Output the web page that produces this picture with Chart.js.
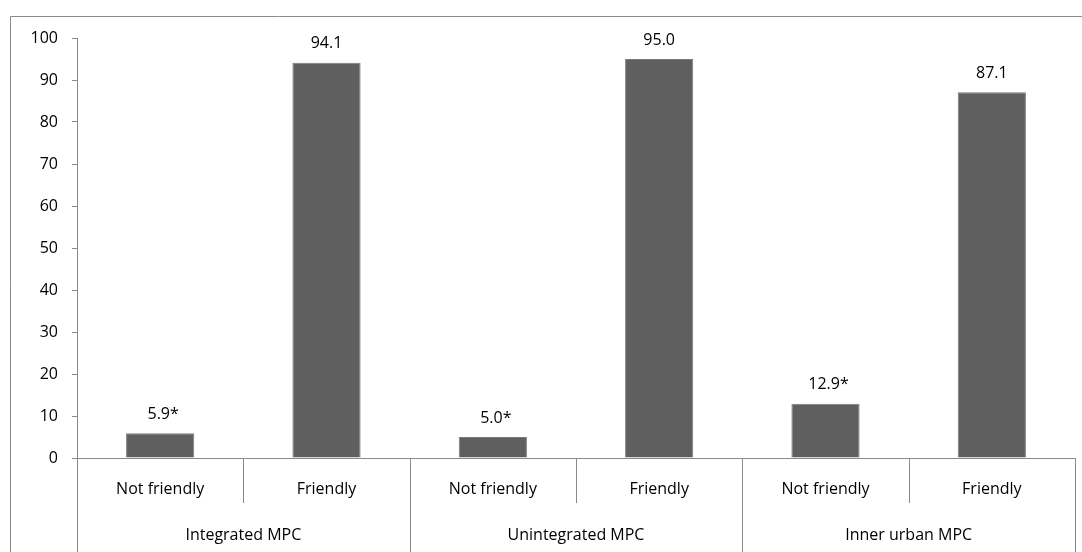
<!DOCTYPE html>
<html>
<head>
<meta charset="utf-8">
<script src="https://cdn.jsdelivr.net/npm/chart.js@4/dist/chart.umd.min.js"></script>
<style>
  html, body { margin: 0; padding: 0; background: #fff; }
  #wrap { width: 1082px; height: 552px; position: relative; }
</style>
</head>
<body>
<div id="wrap"><canvas id="chart"></canvas></div>
<script>
// data
const subLabels = ['Not friendly', 'Friendly', 'Not friendly', 'Friendly', 'Not friendly', 'Friendly'];
const groupLabels = ['Integrated MPC', 'Unintegrated MPC', 'Inner urban MPC'];
const values = [5.9, 94.1, 5.0, 95.0, 12.9, 87.1];
const starred = [true, false, true, false, true, false];
const yTicks = [0, 10, 20, 30, 40, 50, 60, 70, 80, 90, 100];

const FONT = "'Open Sans', sans-serif";
const LINE = '#8a8a8a';

// frame + category separators + group labels
const extras = {
    id: 'extras',
    beforeDraw(chart) {
        const ctx = chart.ctx;
        ctx.save();
        ctx.strokeStyle = LINE;
        ctx.lineWidth = 1;
        ctx.beginPath();
        ctx.moveTo(10.5, chart.height + 2);
        ctx.lineTo(10.5, 16.5);
        ctx.lineTo(chart.width + 2, 16.5);
        ctx.stroke();
        ctx.restore();
    },
    afterDraw(chart) {
        const ctx = chart.ctx;
        const x = chart.scales.x;
        const base = chart.chartArea.bottom;
        ctx.save();
        ctx.strokeStyle = LINE;
        ctx.lineWidth = 1;
        for (let i = 0; i <= subLabels.length; i++) {
            const px = Math.round(x.getPixelForValue(i - 0.5)) + 0.5;
            const end = (i % 2 === 0) ? chart.height : base + 45;
            ctx.beginPath();
            ctx.moveTo(px, base);
            ctx.lineTo(px, end);
            ctx.stroke();
        }
        ctx.fillStyle = '#000';
        ctx.font = '16px ' + FONT;
        ctx.textAlign = 'center';
        ctx.textBaseline = 'middle';
        groupLabels.forEach((g, k) => {
            const cx = x.getPixelForValue(2 * k + 0.5);
            ctx.fillText(g, cx, 535);
        });
        ctx.restore();
    },
    afterDatasetsDraw(chart) {
        const ctx = chart.ctx;
        const meta = chart.getDatasetMeta(0);
        ctx.save();
        ctx.fillStyle = '#000';
        ctx.font = '16px ' + FONT;
        ctx.textAlign = 'center';
        ctx.textBaseline = 'middle';
        meta.data.forEach((bar, i) => {
            const txt = values[i].toFixed(1) + (starred[i] ? '*' : '');
            ctx.fillText(txt, bar.x + (starred[i] ? 3 : 0), bar.y - 19);
        });
        ctx.restore();
    }
};

new Chart(document.getElementById('chart'), {
    type: 'bar',
    data: {
        labels: subLabels,
        datasets: [{
            data: values,
            backgroundColor: '#5f5f5f',
            borderColor: '#7a7a7a',
            borderWidth: 1,
            barPercentage: 0.41,
            categoryPercentage: 1
        }]
    },
    options: {
        responsive: true,
        maintainAspectRatio: false,
        animation: false,
        layout: { padding: { top: 38, right: 7, left: 0, bottom: 0 } },
        plugins: {
            legend: { display: false },
            tooltip: { enabled: false }
        },
        scales: {
            x: {
                grid: { display: false },
                border: { display: true, color: LINE, width: 1 },
                ticks: { color: '#000', font: { family: FONT, size: 16 }, padding: 14, maxRotation: 0 },
                afterFit(scale) { scale.height = 94; }
            },
            y: {
                min: 0,
                max: 100,
                afterBuildTicks(scale) { scale.ticks = yTicks.map(v => ({ value: v })); },
                grid: { display: true, drawOnChartArea: false, drawTicks: true, tickLength: 5, color: LINE },
                border: { display: true, color: LINE, width: 1 },
                ticks: { color: '#000', font: { family: FONT, size: 16 }, padding: 14 },
                afterFit(scale) { scale.width = 77; }
            }
        }
    },
    plugins: [extras]
});
</script>
</body>
</html>
